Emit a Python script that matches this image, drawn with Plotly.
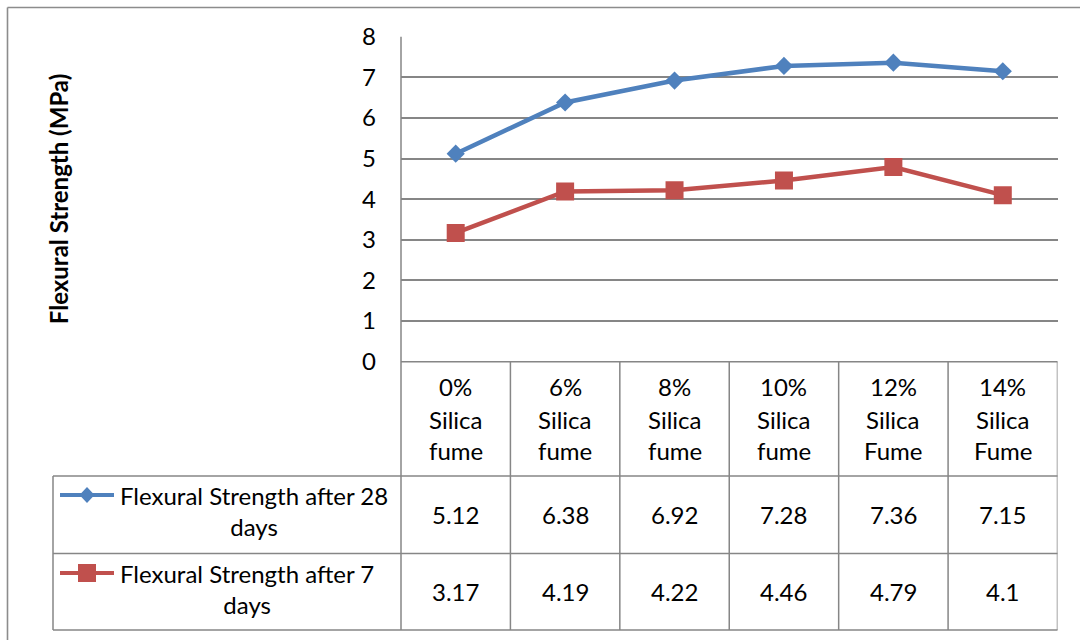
import plotly.graph_objects as go

# ---- data -------------------------------------------------------------
categories = ["0% Silica fume", "6% Silica fume", "8% Silica fume",
              "10% Silica fume", "12% Silica Fume", "14% Silica Fume"]
series_names = ["Flexural Strength after 28 days",
                "Flexural Strength after 7 days"]
strength_28d = [5.12, 6.38, 6.92, 7.28, 7.36, 7.15]
strength_7d = [3.17, 4.19, 4.22, 4.46, 4.79, 4.1]
y_ticks = [0, 1, 2, 3, 4, 5, 6, 7, 8]
y_title = "Flexural Strength (MPa)"

# ---- styling ----------------------------------------------------------
W, H = 1080, 640
FONT = "Lato, 'Open Sans', sans-serif"
FS = 24
BLUE = "#4F81BD"
RED = "#C0504D"
GRID = "#868686"
BORDER = "#8C8C8C"

# plot-area frame in pixels
PL, PR, PT, PB = 401, 1057.5, 36.7, 361.7
# table rows (pixels)
HDR_BOTTOM, ROW1_BOTTOM, ROW2_BOTTOM = 476, 553.5, 630
LEG_LEFT = 53


def px(x):
    return x / W


def py(y):
    return 1 - y / H


fig = go.Figure()

xs = list(range(len(categories)))
fig.add_trace(go.Scatter(
    x=xs, y=strength_28d, name=series_names[0], mode="lines+markers",
    line=dict(color=BLUE, width=4.5),
    marker=dict(symbol="diamond", size=14, color=BLUE),
))
fig.add_trace(go.Scatter(
    x=xs, y=strength_7d, name=series_names[1], mode="lines+markers",
    line=dict(color=RED, width=4.5),
    marker=dict(symbol="square", size=18, color=RED),
))

shapes = []


def hline(y, x0, x1, color=GRID, width=1.5):
    shapes.append(dict(type="line", xref="paper", yref="paper",
                       x0=px(x0), x1=px(x1), y0=py(y), y1=py(y),
                       line=dict(color=color, width=width), layer="above"))


def vline(x, y0, y1, color=GRID, width=1.5):
    shapes.append(dict(type="line", xref="paper", yref="paper",
                       x0=px(x), x1=px(x), y0=py(y0), y1=py(y1),
                       line=dict(color=color, width=width), layer="above"))


# outer chart border
hline(7.5, 7.5, W, BORDER, 1.6)
vline(7.5, 7.5, H, BORDER, 1.6)

# data table grid
hline(PB, PL, PR)
hline(HDR_BOTTOM, LEG_LEFT, PR)
hline(ROW1_BOTTOM, LEG_LEFT, PR)
hline(ROW2_BOTTOM, LEG_LEFT, PR)
vline(PL, PT, ROW2_BOTTOM)
vline(LEG_LEFT, HDR_BOTTOM, ROW2_BOTTOM)
for i in range(1, len(categories) + 1):
    shapes.append(dict(type="line", xref="x", yref="paper",
                       x0=i - 0.5, x1=i - 0.5, y0=py(PB), y1=py(ROW2_BOTTOM),
                       line=dict(color=GRID, width=1.5), layer="above"))

# legend keys inside the table rows
row_key_y = [495, 573]
for color, ky in zip([BLUE, RED], row_key_y):
    shapes.append(dict(type="line", xref="paper", yref="paper",
                       x0=px(60), x1=px(114), y0=py(ky), y1=py(ky),
                       line=dict(color=color, width=4)))
cx, cy = 87, row_key_y[0]
shapes.append(dict(
    type="path", xref="paper", yref="paper",
    path=(f"M {px(cx)},{py(cy - 8)} L {px(cx + 7.5)},{py(cy)} "
          f"L {px(cx)},{py(cy + 8)} L {px(cx - 7.5)},{py(cy)} Z"),
    fillcolor=BLUE, line=dict(color=BLUE, width=0)))
cy = row_key_y[1]
shapes.append(dict(type="rect", xref="paper", yref="paper",
                   x0=px(cx - 9), x1=px(cx + 9), y0=py(cy - 9), y1=py(cy + 9),
                   fillcolor=RED, line=dict(color=RED, width=0)))

annotations = []


def text(x, y, s, xref="paper", size=FS, bold=False, angle=0,
         xanchor="center"):
    annotations.append(dict(
        x=x, y=py(y), xref=xref, yref="paper", text=f"<b>{s}</b>" if bold else s,
        showarrow=False, xanchor=xanchor, yanchor="middle", textangle=angle,
        align="center",
        font=dict(family=FONT, size=size, color="#000000")))


# header row: category names, one word per line
header_line_y = [386.7, 419, 450.5]
for i, cat in enumerate(categories):
    for word, ly in zip(cat.split(" "), header_line_y):
        text(i, ly, word, xref="x")

# value rows
row_centers = [(HDR_BOTTOM + ROW1_BOTTOM) / 2, (ROW1_BOTTOM + ROW2_BOTTOM) / 2]
for vals, rc in zip([strength_28d, strength_7d], row_centers):
    for i, v in enumerate(vals):
        text(i, rc, f"{v:g}", xref="x")

# row labels (series names wrapped on the last word, centred block)
label_block_y = [511, 589]
for name, ly in zip(series_names, label_block_y):
    first, last = name.rsplit(" ", 1)
    text(px(118), ly, f"{first}<br>{last}", xanchor="left")

# y-axis title
text(px(58), (PT + PB) / 2, y_title, bold=True, size=24, angle=-90)

fig.update_layout(
    width=W, height=H,
    margin=dict(l=0, r=0, t=0, b=0),
    paper_bgcolor="white", plot_bgcolor="white",
    showlegend=False,
    shapes=shapes, annotations=annotations,
    xaxis=dict(domain=[px(PL), px(PR)], range=[-0.5, len(categories) - 0.5],
               showgrid=False, zeroline=False, showticklabels=False,
               showline=False, automargin=False),
    yaxis=dict(domain=[py(PB), py(PT)], range=[0, 8], tickvals=y_ticks,
               showgrid=True, gridcolor=GRID, gridwidth=1.5, zeroline=False,
               showline=False, ticks="", ticklabelstandoff=24,
               tickfont=dict(family=FONT, size=FS, color="#000000"),
               automargin=False),
)

fig.write_html("out.html")
